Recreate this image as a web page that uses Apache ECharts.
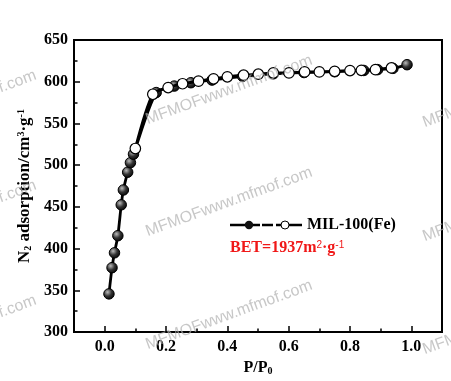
<!DOCTYPE html>
<html><head><meta charset="utf-8">
<script src="https://cdn.jsdelivr.net/npm/echarts@6/dist/echarts.min.js"></script>
<style>html,body{margin:0;padding:0;background:#fff}#c{width:451px;height:381px}</style>
</head><body><div id="c"></div>
<script>
// Adsorption branch (filled symbols)
const adsX = [0.014, 0.024, 0.032, 0.043, 0.054, 0.061, 0.075, 0.084, 0.094, 0.168, 0.227, 0.281, 0.35, 0.45, 0.55, 0.65, 0.75, 0.845, 0.89, 0.94, 0.986];
const adsY = [345.8, 377.2, 395.0, 415.5, 452.5, 470.3, 491.6, 503.0, 513.2, 587.0, 594.8, 598.8, 602.0, 606.5, 609.5, 611.0, 612.0, 613.5, 614.5, 616.0, 620.4];
// Desorption branch (open symbols)
const desX = [0.935, 0.883, 0.837, 0.80, 0.75, 0.70, 0.652, 0.601, 0.55, 0.501, 0.453, 0.40, 0.355, 0.306, 0.254, 0.207, 0.157, 0.10];
const desY = [616.5, 614.5, 613.7, 613.4, 612.5, 611.8, 611.8, 610.6, 610.6, 609.0, 607.8, 605.9, 603.5, 600.7, 597.6, 593.0, 585.0, 520.0];
const xTickValues = [0.0, 0.2, 0.4, 0.6, 0.8, 1.0];
const xMinorValues = [0.1, 0.3, 0.5, 0.7, 0.9];
const yTickValues = [300, 350, 400, 450, 500, 550, 600, 650];
const seriesName = 'MIL-100(Fe)';
const betText = 'BET=1937m{sup|2}·g{sup|-1}';
const yName = 'N{sub|2} adsorption/cm{sup|3}·g{sup|-1}';
const xName = 'P/P{sub|0}';
const watermark = 'MFMOFwww.mfmof.com';

const FF = '"Liberation Serif","Times New Roman",serif';
const chart = echarts.init(document.getElementById('c'), null, {renderer: 'canvas'});

const legendSvg = "<svg xmlns='http://www.w3.org/2000/svg' width='72' height='12'>" +
  "<path d='M0 6H30M32 6H43M46 6H72' stroke='#000' stroke-width='2.5' fill='none'/>" +
  "<circle cx='19' cy='6' r='4.2' fill='#111'/>" +
  "<circle cx='55' cy='6' r='4' fill='#fff' stroke='#000' stroke-width='1'/></svg>";
const legendIcon = 'image://data:image/svg+xml;charset=utf-8,' + encodeURIComponent(legendSvg);

const ballFill = {type: 'radial', x: 0.38, y: 0.35, r: 0.7,
  colorStops: [{offset: 0, color: '#bbb'}, {offset: 0.5, color: '#333'}, {offset: 1, color: '#000'}]};

const richY = {
  sub: {fontFamily: FF, fontWeight: 'bold', fontSize: 10, lineHeight: 10, verticalAlign: 'bottom', color: '#000'},
  sup: {fontFamily: FF, fontWeight: 'bold', fontSize: 10, lineHeight: 10, verticalAlign: 'top', color: '#000'}
};

const wmCenters = [[229, 90], [229, 202], [229, 315], [-47, 105], [-47, 215], [-47, 330], [506, 93], [506, 207], [506, 320]];
const graphics = wmCenters.map(c => ({
  type: 'text', x: c[0], y: c[1], rotation: 20 * Math.PI / 180, silent: true, z: 100,
  style: {text: watermark, fill: 'rgba(175,175,175,0.7)', font: '16px "Liberation Sans", Arial, sans-serif', align: 'center', verticalAlign: 'middle'}
}));
graphics.push({
  type: 'text', left: 230, top: 240, z: 50,
  style: {text: betText, fill: '#f01818', font: 'bold 16px ' + FF,
    rich: {sup: {fill: '#f01818', font: 'bold 10px ' + FF, fontSize: 10, lineHeight: 10, verticalAlign: 'top'}}}
});

chart.setOption({
  animation: false,
  backgroundColor: '#fff',
  grid: {left: 74, right: 9, top: 40, bottom: 45, show: true, borderColor: '#000', borderWidth: 2, backgroundColor: 'transparent'},
  legend: {
    left: 230, top: 217, padding: 0, itemWidth: 72, itemHeight: 12, selectedMode: false,
    data: [{name: seriesName, icon: legendIcon}],
    textStyle: {fontFamily: FF, fontWeight: 'bold', fontSize: 16, color: '#000'}
  },
  xAxis: [{
    type: 'value', min: -0.1, max: 1.1,
    name: xName, nameLocation: 'middle', nameGap: 22,
    nameTextStyle: {fontFamily: FF, fontWeight: 'bold', fontSize: 16, color: '#000', rich: richY},
    axisLine: {show: true, onZero: false, lineStyle: {color: '#000', width: 2}},
    axisTick: {show: true, inside: true, length: 6, customValues: xTickValues, lineStyle: {color: '#000', width: 1.5}},
    axisLabel: {customValues: xTickValues, margin: 7, fontFamily: FF, fontWeight: 'bold', fontSize: 16, color: '#000',
      formatter: v => v.toFixed(1)},
    splitLine: {show: false}
  }, {
    type: 'value', min: -0.1, max: 1.1, position: 'bottom', gridIndex: 0,
    axisLine: {show: false, onZero: false},
    axisTick: {show: true, inside: true, length: 3.5, customValues: xMinorValues, lineStyle: {color: '#000', width: 1.5}},
    axisLabel: {show: false},
    splitLine: {show: false}
  }],
  yAxis: {
    type: 'value', min: 300, max: 650, interval: 50,
    name: yName, nameLocation: 'middle', nameGap: 34,
    nameTextStyle: {fontFamily: FF, fontWeight: 'bold', fontSize: 17, color: '#000', rich: richY},
    axisLine: {show: true, onZero: false, lineStyle: {color: '#000', width: 2}},
    axisTick: {show: true, inside: true, length: 6, lineStyle: {color: '#000', width: 1.5}},
    minorTick: {show: true, splitNumber: 2, length: 3.5, lineStyle: {color: '#000', width: 1.5}},
    axisLabel: {margin: 6, fontFamily: FF, fontWeight: 'bold', fontSize: 16, color: '#000',
      customValues: yTickValues},
    splitLine: {show: false}
  },
  series: [{
    name: seriesName, type: 'line', xAxisIndex: 0, smooth: 0.25,
    data: adsX.map((x, i) => [x, adsY[i]]),
    symbol: 'circle', symbolSize: 10.5,
    lineStyle: {color: '#000', width: 2.8},
    itemStyle: {color: ballFill, borderColor: '#000', borderWidth: 1},
    z: 2
  }, {
    name: 'desorption', type: 'line', xAxisIndex: 0, smooth: 0.25,
    data: desX.map((x, i) => [x, desY[i]]),
    symbol: 'circle', symbolSize: 10.5,
    lineStyle: {color: '#000', width: 2.8},
    itemStyle: {color: '#fff', borderColor: '#000', borderWidth: 1.2},
    z: 3
  }],
  graphic: graphics
});
</script></body></html>
